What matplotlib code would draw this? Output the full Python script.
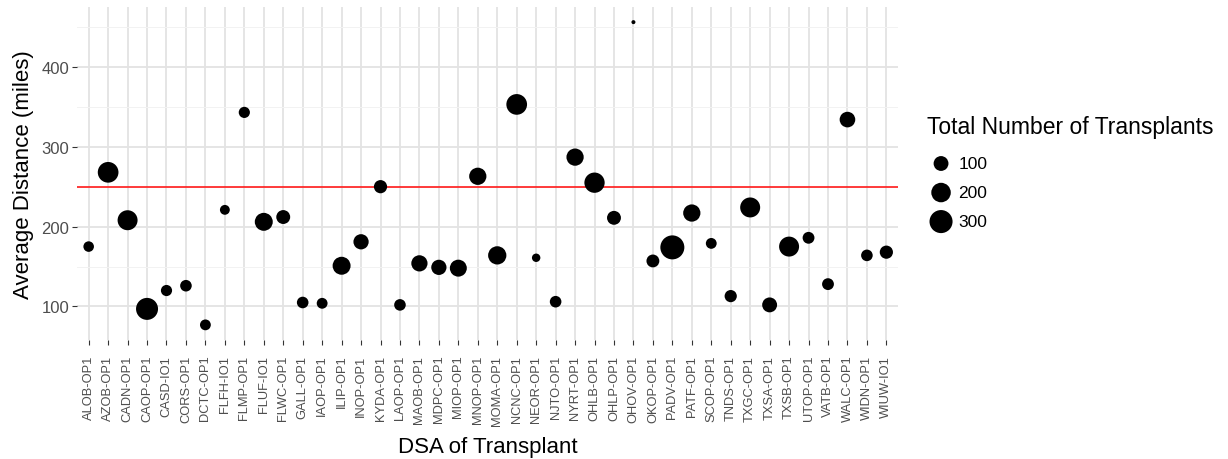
import matplotlib
matplotlib.use("Agg")
import matplotlib.pyplot as plt
import numpy as np

plt.rcParams['font.family'] = ['Liberation Sans', 'DejaVu Sans']

# DSA codes along the x axis
dsa = ['ALOB-OP1', 'AZOB-OP1', 'CADN-OP1', 'CAOP-OP1', 'CASD-IO1', 'CORS-OP1',
       'DCTC-OP1', 'FLFH-IO1', 'FLMP-OP1', 'FLUF-IO1', 'FLWC-OP1', 'GALL-OP1',
       'IAOP-OP1', 'ILIP-OP1', 'INOP-OP1', 'KYDA-OP1', 'LAOP-OP1', 'MAOB-OP1',
       'MDPC-OP1', 'MIOP-OP1', 'MNOP-OP1', 'MOMA-OP1', 'NCNC-OP1', 'NEOR-OP1',
       'NJTO-OP1', 'NYRT-OP1', 'OHLB-OP1', 'OHLP-OP1', 'OHOV-OP1', 'OKOP-OP1',
       'PADV-OP1', 'PATF-OP1', 'SCOP-OP1', 'TNDS-OP1', 'TXGC-OP1', 'TXSA-OP1',
       'TXSB-OP1', 'UTOP-OP1', 'VATB-OP1', 'WALC-OP1', 'WIDN-OP1', 'WIUW-IO1']

# average distance (miles)
avg_dist = [175, 268, 208, 97, 120, 126,
            77, 221, 343, 206, 212, 105,
            104, 151, 181, 250, 102, 154,
            149, 148, 263, 164, 353, 161,
            106, 287, 255, 211, 456, 157,
            174, 217, 179, 113, 224, 102,
            175, 186, 128, 334, 164, 168]

# total number of transplants
n_tx = [39, 231, 212, 268, 46, 51,
        42, 32, 46, 163, 84, 51,
        42, 163, 107, 73, 51, 126,
        107, 141, 147, 170, 231, 20,
        51, 147, 220, 84, 4, 68,
        330, 147, 42, 59, 212, 101,
        212, 54, 54, 114, 51, 73]

legend_vals = [100, 200, 300]
threshold = 250

# ggplot-like area scale: diameter (px) from count
n_min, n_max = min(n_tx), max(n_tx)
dpi = 100
px2pt = 72 / dpi


def marker_area(v):
    t = np.clip((np.asarray(v, dtype=float) - n_min) / (n_max - n_min), 0, 1)
    d_px = 4.0 * (1 + 5 * np.sqrt(t))
    return (d_px * px2pt) ** 2


fig = plt.figure(figsize=(12.28, 4.6), dpi=dpi)
ax = fig.add_axes([0.0627, 0.2587, 0.6686, 0.7239])

x = np.arange(len(dsa))
ax.axhline(threshold, color='#ff1a1a', lw=1.2, zorder=2)
ax.scatter(x, avg_dist, s=marker_area(n_tx), color='black', edgecolors='none', zorder=3)

ax.set_xlim(-0.6, len(dsa) - 0.4)
lo, hi = min(avg_dist), max(avg_dist)
pad = (hi - lo) * 0.05
ax.set_ylim(lo - pad, hi + pad)

ax.set_xticks(x)
ax.set_xticklabels(dsa, rotation=90, fontsize=9.3, color='#4d4d4d')
ax.set_yticks([100, 200, 300, 400])
ax.set_yticks([150, 250, 350, 450], minor=True)
ax.tick_params(axis='y', labelsize=12, labelcolor='#4d4d4d', color='#333333',
               length=3.6, width=0.8, pad=2)
ax.tick_params(axis='x', color='#333333', length=3.6, width=0.8, pad=7)
ax.tick_params(axis='y', which='minor', length=0)

ax.grid(True, which='major', color='#e3e3e3', lw=1.3, zorder=0)
ax.grid(True, which='minor', axis='y', color='#f2f2f2', lw=0.7, zorder=0)
ax.set_axisbelow(True)
for s in ax.spines.values():
    s.set_visible(False)

ax.set_xlabel('DSA of Transplant', fontsize=16, labelpad=8)
ax.set_ylabel('Average Distance (miles)', fontsize=16, labelpad=5)

handles = [ax.scatter([], [], s=marker_area(v), color='black', edgecolors='none')
           for v in legend_vals]
leg = ax.legend(handles, [str(v) for v in legend_vals], title='Total Number of Transplants',
                loc='upper left', bbox_to_anchor=(1.027, 0.697), frameon=False,
                fontsize=12.5, title_fontsize=16.5, labelspacing=0.8,
                handlelength=1.6, handletextpad=0.2, borderaxespad=0)
leg._legend_box.align = 'left'
# a bit more room between legend title and keys
leg._legend_box.sep += 3

fig.savefig('out.png', dpi=dpi)
